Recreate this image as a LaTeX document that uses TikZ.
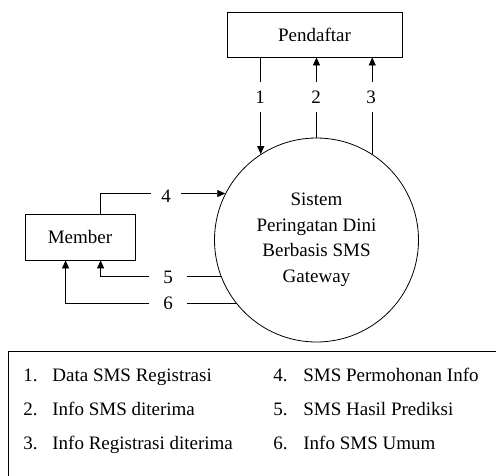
\documentclass[tikz,border=0pt]{standalone}
\usepackage{fontspec}
\setmainfont{Liberation Serif}
\usetikzlibrary{arrows.meta,calc}
\begin{document}
\begin{tikzpicture}[x=1pt,y=-1pt,line width=0.8pt,
  txt/.style={font=\fontsize{19}{25.5}\selectfont},
  ent/.style={draw,rectangle,inner sep=0pt,txt},
  arr/.style={-{Triangle[length=8pt,width=7pt]}},
  lbl/.style={fill=white,inner xsep=10pt,inner ysep=9pt,txt},
  leg/.style={anchor=base west,inner sep=0pt,txt}]
\useasboundingbox (0,0) rectangle (496,475);
\node[ent,minimum width=175pt,minimum height=45pt] (pend) at (314.5,34.5) {Pendaftar};
\node[ent,minimum width=110pt,minimum height=46pt] (mem) at (80,237) {Member};
\node[draw,circle,minimum size=204pt,inner sep=0pt] (sys) at (316.5,240) {};
\node[txt,align=center] (systxt) at (316.5,240) {Sistem\\Peringatan Dini\\Berbasis SMS\\Gateway};
% flows
\draw[arr] (sys.123.6 |- pend.south) -- (sys.123.6);
\draw[arr] (sys.north) -- (sys.north |- pend.south);
\draw[arr] (sys.57.7) -- (sys.57.7 |- pend.south);
\draw[arr] ($(mem.north west)+(76,0)$) |- (sys.153.8);
\draw[arr] (sys.201.3) -| ($(mem.south west)+(76,0)$);
\draw[arr] (sys.218.2) -| ($(mem.south west)+(41,0)$);
% labels
\node[lbl] (l1) at (260,97) {1};
\node[lbl] (l2) at (316,97) {2};
\node[lbl] (l3) at (371,97) {3};
\node[lbl] (l4) at (166,196) {4};
\node[lbl,inner xsep=14pt] (l5) at (168,277) {5};
\node[lbl,inner xsep=14pt] (l6) at (168,303) {6};
% legend
\draw (8,351) rectangle (520,500);
\node[leg] (n1) at (23,381) {1.};
\node[leg] (t1) at (52,381) {Data SMS Registrasi};
\node[leg] (n2) at (23,415) {2.};
\node[leg] (t2) at (52,415) {Info SMS diterima};
\node[leg] (n3) at (23,449) {3.};
\node[leg] (t3) at (52,449) {Info Registrasi diterima};
\node[leg] (n4) at (273,381) {4.};
\node[leg] (t4) at (303,381) {SMS Permohonan Info};
\node[leg] (n5) at (273,415) {5.};
\node[leg] (t5) at (303,415) {SMS Hasil Prediksi};
\node[leg] (n6) at (273,449) {6.};
\node[leg] (t6) at (303,449) {Info SMS Umum};
\end{tikzpicture}
\end{document}
